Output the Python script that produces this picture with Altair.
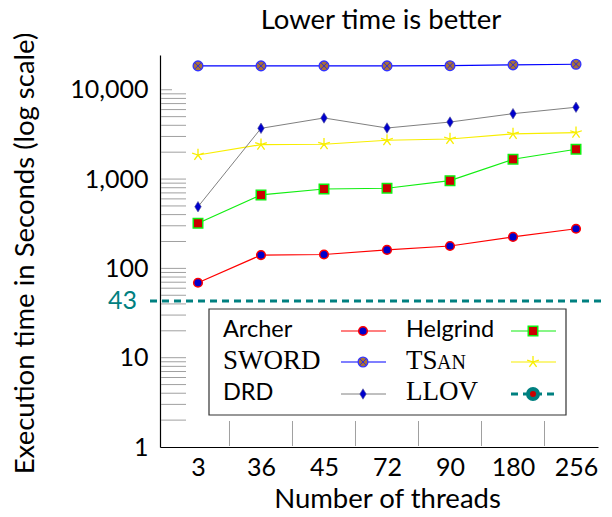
import altair as alt
import pandas as pd

# ---------------- data ----------------
threads = ["3", "36", "45", "72", "90", "180", "256"]
archer = [69, 141, 143, 161, 178, 225, 278]
sword = [18500, 18500, 18500, 18500, 18600, 19000, 19300]
drd = [490, 3700, 4830, 3730, 4350, 5400, 6370]
helgrind = [320, 664, 774, 789, 960, 1667, 2158]
tsan = [1860, 2430, 2455, 2720, 2810, 3200, 3310]
llov = 43

y_tick_values = [1, 10, 100, 1000, 10000]
y_long_ticks = [m * 10 ** k for k in range(4) for m in range(2, 10)] + [10, 100, 1000]
y_short_ticks = [10000]
x_sep_ticks = [0.5, 1.5, 2.5, 3.5, 4.5, 5.5]

series_order = ["Archer", "Helgrind", "SWORD", "TSan", "DRD"]
series_values = {"Archer": archer, "SWORD": sword, "DRD": drd,
                 "Helgrind": helgrind, "TSan": tsan}
chart_title = "Lower time is better"

# ---------------- style ----------------
SANS = "Lato"
SERIF = "Liberation Serif"
FS = 25
TFS = 27.5
LFS = 23.5
W, H = 438, 392
XDOM = [-0.603, 6.349]
YDOM = [1, 24500]

DIAMOND = "M0,-1L0.62,0L0,1L-0.62,0Z"
XCROSS = "M-0.6,-0.6L0.6,0.6M-0.6,0.6L0.6,-0.6"
STAR = ("M0,0L0,-1M0,0L0.951,-0.309M0,0L0.588,0.809"
        "M0,0L-0.588,0.809M0,0L-0.951,-0.309")

STYLES = {
    "Archer": dict(line="#ff0000", width=1.2, markers=[
        dict(shape="circle", size=75, fill="#0000cc", stroke="#ff0000",
             strokeWidth=1.5, filled=True, opacity=1)]),
    "SWORD": dict(line="#0000ff", width=1.2, markers=[
        dict(shape="circle", size=95, fill="#a87038", stroke="#3333ff",
             strokeWidth=1.3, filled=True, opacity=1),
        dict(shape=XCROSS, size=95, stroke="#2222ee", strokeWidth=0.9,
             filled=False, opacity=1)]),
    "DRD": dict(line="#808080", width=1.0, markers=[
        dict(shape=DIAMOND, size=110, fill="#0000cc", stroke="#555599",
             strokeWidth=0.6, filled=True, opacity=1)]),
    "Helgrind": dict(line="#11ee11", width=1.2, markers=[
        dict(shape="square", size=90, fill="#cc0000", stroke="#11ee11",
             strokeWidth=1.5, filled=True, opacity=1)]),
    "TSan": dict(line="#f8ee00", width=1.2, markers=[
        dict(shape=STAR, size=150, stroke="#f8ee00", strokeWidth=1.3,
             filled=False, opacity=1)]),
}
TEAL = "#008080"

label_expr = "[" + ",".join(f"'{t}'" for t in threads) + "][datum.value]"


def xenc(field="idx"):
    return alt.X(
        f"{field}:Q",
        scale=alt.Scale(domain=XDOM, nice=False, zero=False),
        axis=alt.Axis(values=list(range(len(threads))), labelExpr=label_expr,
                      ticks=False, tickSize=0, grid=False, domainColor="black",
                      domainWidth=1.2, labelFont=SANS, labelFontSize=FS,
                      labelColor="black", labelPadding=8,
                      title="Number of threads", titleFont=SANS,
                      titleFontSize=TFS, titleFontWeight="normal",
                      titleColor="black", titleBaseline="alphabetic",
                      titleAlign="center", titleX=227, titleY=60),
    )


def yenc(field="value"):
    return alt.Y(
        f"{field}:Q",
        scale=alt.Scale(type="log", domain=YDOM, nice=False),
        axis=alt.Axis(values=y_tick_values, format=",d", ticks=False,
                      tickSize=0, grid=False, domainColor="black",
                      domainWidth=1.2, labelFont=SANS, labelFontSize=FS,
                      labelColor="black", labelPadding=12,
                      title="Execution time in Seconds (log scale)",
                      titleFont=SANS, titleFontSize=TFS,
                      titleFontWeight="normal", titleColor="black",
                      titleBaseline="alphabetic", titleX=-127,
                      titleY=H / 2 + 2),
    )


layers = []

# tick marks inside the plot
tick_df = pd.DataFrame({"value": y_long_ticks})
layers.append(alt.Chart(tick_df).mark_rule(color="#a0a0a0", strokeWidth=1)
              .encode(y=yenc(), x=alt.value(1), x2=alt.value(26)))
short_df = pd.DataFrame({"value": y_short_ticks})
layers.append(alt.Chart(short_df).mark_rule(color="#a0a0a0", strokeWidth=1)
              .encode(y=yenc(), x=alt.value(1), x2=alt.value(12)))
sep_df = pd.DataFrame({"idx": x_sep_ticks})
layers.append(alt.Chart(sep_df).mark_rule(color="#a0a0a0", strokeWidth=1)
              .encode(x=xenc(), y=alt.value(H - 26), y2=alt.value(H - 1)))

# data series
for name in series_order:
    st = STYLES[name]
    df = pd.DataFrame({"idx": list(range(len(threads))),
                       "threads": threads,
                       "value": series_values[name]})
    base = alt.Chart(df)
    layers.append(base.mark_line(color=st["line"], strokeWidth=st["width"])
                  .encode(x=xenc(), y=yenc()))
    for mk in st["markers"]:
        layers.append(base.mark_point(**mk).encode(x=xenc(), y=yenc()))

# LLOV reference line
llov_df = pd.DataFrame({"value": [llov]})
layers.append(alt.Chart(llov_df).mark_rule(color=TEAL, strokeWidth=3,
                                           strokeDash=[7, 5])
              .encode(y=yenc(), x=alt.value(-10), x2=alt.value(W + 14)))
layers.append(alt.Chart(llov_df).mark_text(color=TEAL, font=SANS, fontSize=FS,
                                           align="right", baseline="middle")
              .encode(y=yenc(), x=alt.value(-23), text=alt.Text("value:Q")))

# ---------------- legend ----------------
one = pd.DataFrame({"k": [0]})


def ltext(txt, x, y, font, size):
    return (alt.Chart(one)
            .mark_text(text=txt, font=font, fontSize=size, align="left",
                       baseline="alphabetic", color="black")
            .encode(x=alt.value(x), y=alt.value(y)))


def lline(x1, x2, y, color, width, dash=None):
    kw = dict(color=color, strokeWidth=width)
    if dash:
        kw["strokeDash"] = dash
    return (alt.Chart(one).mark_rule(**kw)
            .encode(x=alt.value(x1), x2=alt.value(x2), y=alt.value(y)))


def lpoint(x, y, mk):
    return alt.Chart(one).mark_point(**mk).encode(x=alt.value(x), y=alt.value(y))


layers.append(alt.Chart(one).mark_rect(fill="white", stroke="#333333",
                                       strokeWidth=1.2)
              .encode(x=alt.value(49), x2=alt.value(406),
                      y=alt.value(254), y2=alt.value(360)))

legend_entries = [
    # name, text x, baseline y, sym x1, sym x2, marker x, sym y, font
    ("Archer", 63, 282, 181, 226, 203, 276, SANS),
    ("Helgrind", 246, 282, 351, 396, 373, 276, SANS),
    ("SWORD", 63, 314, 181, 226, 203, 307, SERIF),
    ("TSan", 246, 314, 351, 396, 373, 307, SERIF),
    ("DRD", 63, 345, 181, 226, 203, 339, SANS),
]
for name, tx, ty, sx1, sx2, mx, sy, font in legend_entries:
    st = STYLES[name]
    if name == "TSan":
        layers.append(ltext("TS", tx, ty, SERIF, 27))
        layers.append(ltext("AN", tx + 31, ty, SERIF, 20))
    else:
        layers.append(ltext(name, tx, ty, font, 27 if font == SERIF else LFS))
    layers.append(lline(sx1, sx2, sy, st["line"], st["width"]))
    for mk in st["markers"]:
        layers.append(lpoint(mx, sy, mk))

# LLOV legend entry
layers.append(ltext("LLOV", 246, 345, SERIF, 27))
layers.append(lline(351, 396, 339, TEAL, 3, dash=[7, 5]))
layers.append(lpoint(373, 339, dict(shape="circle", size=100, fill="#cc0000",
                                    stroke=TEAL, strokeWidth=4, filled=True,
                                    opacity=1)))

# chart title drawn as text above the plot
layers.append(alt.Chart(one)
              .mark_text(text=chart_title, font=SANS, fontSize=TFS,
                         align="center", baseline="alphabetic", color="black")
              .encode(x=alt.value(W / 2 + 2), y=alt.value(-26)))

chart = (
    alt.layer(*layers)
    .properties(
        width=W, height=H,
        padding={"left": 152, "top": 47, "right": 6, "bottom": 62},
        autosize=alt.AutoSizeParams(type="none"),
        background="white",
    )
    .configure_view(stroke=None)
)

chart.save("out.html", embed_options={"renderer": "svg", "actions": False})
